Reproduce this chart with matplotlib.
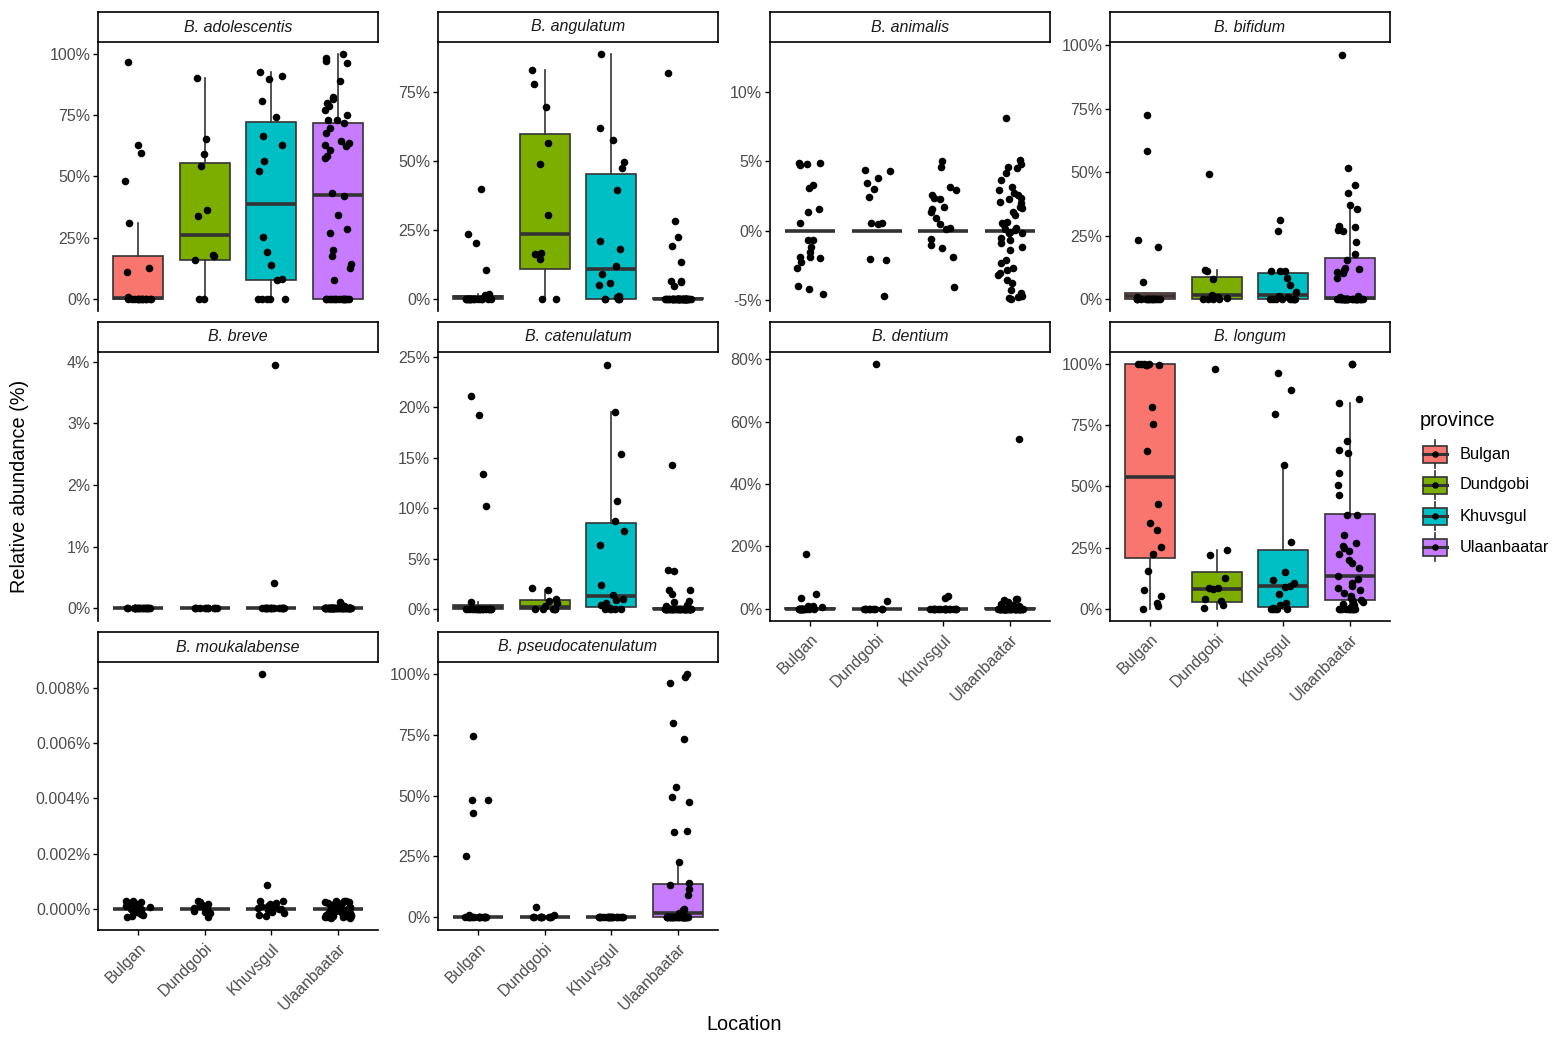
import numpy as np
import matplotlib
matplotlib.use("Agg")
import matplotlib.pyplot as plt
from matplotlib.patches import Rectangle

plt.rcParams['font.family'] = ['Liberation Sans', 'DejaVu Sans']

# ---------------- data ----------------
provinces = ["Bulgan", "Dundgobi", "Khuvsgul", "Ulaanbaatar"]
province_colors = ["#F8766D", "#7CAE00", "#00BFC4", "#C77CFF"]
species = ["B. adolescentis", "B. angulatum", "B. animalis", "B. bifidum",
           "B. breve", "B. catenulatum", "B. dentium", "B. longum",
           "B. moukalabense", "B. pseudocatenulatum"]

# relative abundance points (%) per province, order: Bulgan, Dundgobi, Khuvsgul, Ulaanbaatar
adolescentis_pts = [
    [96.9, 63.0, 59.7, 48.0, 30.9, 12.7, 10.9, 0.6] + [0.0] * 13,
    [90.2, 65.4, 59.3, 54.4, 36.5, 34.0, 18.0, 17.3, 15.7, 0.0, 0.0],
    [92.8, 91.1, 89.9, 80.7, 74.2, 66.7, 62.7, 56.3, 52.2, 25.1, 19.0, 13.9, 8.1, 7.5] + [0.0] * 5,
    [100.0, 98.6, 97.3, 96.6, 89.1, 82.7, 81.8, 79.9, 78.8, 77.0, 75.3, 73.1, 72.9, 71.7,
     69.9, 67.6, 64.5, 63.8, 62.7, 62.4, 61.0, 58.3, 57.6, 43.3, 41.9, 34.4, 28.7, 26.9,
     19.8, 17.3, 14.2, 12.7, 7.5] + [0.0] * 15,
]
adolescentis_box = [(0.0, 0.2, 17.3, 0.0, 30.9), (15.7, 26.0, 55.7, 0.0, 90.2),
                    (7.8, 38.8, 72.1, 0.0, 92.8), (0.0, 42.3, 71.7, 0.0, 100.0)]

angulatum_pts = [
    [40.0, 23.4, 20.1, 10.3, 1.8, 1.3] + [0.0] * 15,
    [82.9, 78.0, 69.6, 56.6, 48.7, 30.3, 16.6, 16.4, 14.5, 0.0, 0.0],
    [88.7, 62.0, 57.6, 49.7, 47.4, 39.6, 21.0, 18.2, 12.0, 9.0, 5.8, 5.0, 1.2, 0.5] + [0.0] * 5,
    [82.0, 28.1, 22.5, 19.3, 13.3, 6.5, 6.3, 6.1, 4.5] + [0.0] * 39,
]
angulatum_box = [(0.0, 0.5, 1.1, 0.0, 1.8), (10.9, 23.6, 59.7, 0.0, 82.9),
                 (0.0, 10.8, 45.3, 0.0, 88.7), (0.0, 0.0, 0.4, 0.0, 0.9)]

animalis_pts = [
    [4.74, 4.88, 4.83, 4.90, 3.29, 3.05, 1.37, 1.54, 0.58, -0.67, -0.67, -1.15, -1.54,
     -1.88, -1.92, -2.00, -2.24, -2.67, -3.97, -4.23, -4.60],
    [4.37, 4.33, 3.82, 3.46, 2.98, 2.45, 0.55, 0.50, 0.55, -2.02, -2.12, -4.71],
    [5.05, 4.62, 3.17, 2.91, 2.55, 2.36, 2.26, 1.73, 1.54, 1.32, 0.89, 0.48, 0.22, 0.10,
     -0.63, -1.01, -1.27, -1.90, -4.04],
    [8.15, 5.10, 4.80, 4.62, 4.50, 4.13, 3.65, 3.17, 2.93, 2.69, 2.57, 2.33, 2.26, 2.09,
     1.97, 1.73, 1.61, 1.37, 1.13, 0.65, 0.53, 0.41, 0.17, 0.10, 0.05, -0.07, -0.14, -0.20,
     -0.50, -0.67, -0.91, -1.15, -1.39, -2.12, -2.31, -2.72, -2.84, -3.08, -3.20, -3.56,
     -3.80, -4.28, -4.52, -4.69, -4.71, -4.76, -4.88, -4.95],
]
animalis_box = [(0.0, 0.0, 0.0, 0.0, 0.0)] * 4

bifidum_pts = [
    [72.5, 58.5, 23.5, 20.6, 6.7, 1.0] + [0.0] * 15,
    [49.1, 11.5, 11.0, 8.1, 1.6, 1.0, 0.4] + [0.0] * 4,
    [31.1, 27.0, 11.3, 11.3, 11.3, 8.3, 5.6, 3.0, 1.3, 1.0] + [0.0] * 9,
    [96.1, 51.6, 44.8, 41.7, 37.1, 35.5, 28.8, 28.6, 27.3, 26.9, 22.7, 18.0, 15.5, 12.2,
     11.8, 11.4, 10.9, 10.5, 8.3, 1.4, 1.0] + [0.0] * 27,
]
bifidum_box = [(0.0, 1.4, 2.4, 0.0, 2.4), (0.2, 1.5, 8.7, 0.0, 11.5),
               (0.0, 1.6, 10.5, 0.0, 11.3), (0.0, 0.7, 16.3, 0.0, 36.8)]

breve_pts = [
    [0.0] * 21,
    [0.0] * 11,
    [3.95, 0.41] + [0.0] * 17,
    [0.10, 0.04, 0.03] + [0.0] * 45,
]
breve_box = [(0.0, 0.0, 0.0, 0.0, 0.0)] * 4

catenulatum_pts = [
    [21.1, 19.2, 13.4, 10.2, 0.7] + [0.0] * 16,
    [2.05, 1.85, 1.03, 0.76, 0.60, 0.33] + [0.0] * 5,
    [24.2, 19.5, 15.4, 10.7, 8.7, 7.7, 6.3, 2.4, 1.36, 0.99, 0.86, 0.60, 0.43, 0.10] + [0.0] * 5,
    [14.3, 3.84, 3.74, 1.92, 1.85, 1.49, 0.76, 0.70, 0.43, 0.33] + [0.0] * 38,
]
catenulatum_box = [(0.0, 0.15, 0.36, 0.0, 0.7), (0.0, 0.17, 0.86, 0.0, 1.85),
                   (0.23, 1.26, 8.5, 0.0, 19.5), (0.0, 0.0, 0.1, 0.0, 0.2)]

dentium_pts = [
    [17.5, 4.7, 3.5, 1.0, 0.75, 0.5] + [0.0] * 15,
    [78.4, 2.6] + [0.0] * 9,
    [4.0, 3.4] + [0.0] * 17,
    [54.5, 3.3, 3.1, 2.7, 2.1, 1.6, 1.2, 0.75] + [0.0] * 40,
]
dentium_box = [(0.0, 0.0, 0.4, 0.0, 1.0), (0.0, 0.0, 0.0, 0.0, 0.0),
               (0.0, 0.0, 0.0, 0.0, 0.0), (0.0, 0.0, 0.2, 0.0, 0.5)]

longum_pts = [
    [100.0, 100.0, 100.0, 100.0, 99.8, 99.6, 99.5, 82.7, 75.4, 64.5, 43.0, 35.1, 32.4,
     25.3, 22.5, 15.3, 7.8, 5.1, 2.3, 1.0, 0.0],
    [98.2, 24.2, 22.0, 12.6, 8.5, 8.5, 8.1, 4.2, 3.1, 1.6, 0.3],
    [96.6, 89.3, 79.5, 58.6, 27.2, 15.2, 11.9, 10.5, 9.2, 8.9, 6.1, 2.3, 1.5, 0.5] + [0.0] * 5,
    [100.0, 100.0, 85.7, 84.0, 68.7, 64.9, 63.8, 55.6, 50.5, 46.7, 38.5, 38.3, 30.1, 26.9,
     25.8, 25.0, 23.5, 22.3, 19.8, 18.7, 16.7, 13.3, 12.2, 10.5, 9.2, 8.3, 7.8, 6.4, 5.3,
     4.4, 3.4, 3.0, 2.6, 2.0, 1.5, 1.0, 0.5] + [0.0] * 11,
]
longum_box = [(20.8, 54.0, 100.0, 0.0, 100.0), (2.7, 8.2, 15.0, 0.0, 23.9),
              (0.8, 9.2, 24.2, 0.0, 58.3), (3.4, 13.5, 38.7, 0.0, 84.0)]

moukalabense_pts = [
    [0.00030, 0.00028, 0.00025, 0.00022, 0.00020, 0.00018, 0.00015, 0.00012, 0.00008,
     0.00005, 0.00002, 0.0, -0.00003, -0.00006, -0.00008, -0.00010, -0.00014, -0.00018,
     -0.00022, -0.00025, -0.00028],
    [0.00028, 0.00025, 0.00020, 0.00015, 0.00010, 0.00005, 0.0, -0.00005, -0.00010,
     -0.00013, -0.00028],
    [0.0085, 0.00088, 0.00030, 0.00028, 0.00022, 0.00018, 0.00015, 0.00012, 0.00010,
     0.00008, 0.00005, 0.00002, 0.0, -0.00003, -0.00006, -0.00010, -0.00015, -0.00020,
     -0.00025],
    [0.00031, 0.00030, 0.00029, 0.00027, 0.00026, 0.00024, 0.00023, 0.00021, 0.00020,
     0.00018, 0.00016, 0.00015, 0.00013, 0.00011, 0.00010, 0.00008, 0.00006, 0.00005,
     0.00003, 0.00002, 0.0, -0.00001, -0.00003, -0.00004, -0.00006, -0.00007, -0.00009,
     -0.00010, -0.00012, -0.00013, -0.00015, -0.00016, -0.00018, -0.00019, -0.00021,
     -0.00022, -0.00023, -0.00025, -0.00026, -0.00027, -0.00028, -0.00029, -0.00030,
     -0.00031, -0.00024, 0.00012, -0.00011, 0.00027],
]
moukalabense_box = [(0.0, 0.0, 0.0, 0.0, 0.0)] * 4

pseudocatenulatum_pts = [
    [74.5, 48.2, 48.1, 43.0, 25.2, 1.0] + [0.0] * 15,
    [4.4, 1.0] + [0.0] * 9,
    [0.0] * 19,
    [100.0, 98.9, 96.4, 80.0, 73.2, 53.4, 49.6, 47.4, 35.6, 34.9, 22.7, 14.0, 13.3, 11.5,
     9.2, 3.3, 3.0, 2.3, 1.6, 1.0, 0.3] + [0.0] * 27,
]
pseudocatenulatum_box = [(0.0, 0.0, 0.0, 0.0, 0.0), (0.0, 0.0, 0.0, 0.0, 0.0),
                         (0.0, 0.0, 0.0, 0.0, 0.0), (0.0, 1.6, 13.6, 0.0, 22.7)]

points_by_species = [adolescentis_pts, angulatum_pts, animalis_pts, bifidum_pts, breve_pts,
                     catenulatum_pts, dentium_pts, longum_pts, moukalabense_pts,
                     pseudocatenulatum_pts]
boxes_by_species = [adolescentis_box, angulatum_box, animalis_box, bifidum_box, breve_box,
                    catenulatum_box, dentium_box, longum_box, moukalabense_box,
                    pseudocatenulatum_box]

y_ticks = [[0, 25, 50, 75, 100], [0, 25, 50, 75], [-5, 0, 5, 10], [0, 25, 50, 75, 100],
           [0, 1, 2, 3, 4], [0, 5, 10, 15, 20, 25], [0, 20, 40, 60, 80],
           [0, 25, 50, 75, 100], [0, 0.002, 0.004, 0.006, 0.008], [0, 25, 50, 75, 100]]

# ---------------- layout ----------------
W, H = 1558, 1045
fig = plt.figure(figsize=(W / 100, H / 100), dpi=100)
fig.patch.set_facecolor("white")

col_x = [(98, 378), (438, 718), (770, 1050), (1110, 1390)]
row_y = [(42, 311), (352, 621), (662, 930)]
strip_h = 30
y_limits = [(-5, 105), (-4.4, 93.1), (-5.8, 13.6), (-4.6, 101.2), (-0.21, 4.16),
            (-1.2, 25.5), (-3.9, 82.3), (-5, 105), (-0.00075, 0.00893), (-5.2, 104.9)]
bottom_panels = {6, 7, 8, 9}

def rect(x0, x1, y0, y1):
    return [x0 / W, 1 - y1 / H, (x1 - x0) / W, (y1 - y0) / H]

rng = np.random.default_rng(11)
edge = "#333333"
tick_col = "#4D4D4D"
tick_fs = 11.5

for k, sp in enumerate(species):
    r, c = divmod(k, 4)
    x0, x1 = col_x[c]
    y0, y1 = row_y[r]
    ax = fig.add_axes(rect(x0, x1, y0, y1))
    pts = points_by_species[k]
    bstats = boxes_by_species[k]
    stats = []
    for (q1, med, q3, wlo, whi) in bstats:
        stats.append(dict(q1=q1, med=med, q3=q3, whislo=wlo, whishi=whi, fliers=[]))
    bp = ax.bxp(stats, positions=[1, 2, 3, 4], widths=0.75, patch_artist=True,
                showfliers=False, showcaps=False,
                boxprops=dict(edgecolor=edge, linewidth=1.2),
                medianprops=dict(color=edge, linewidth=2.6, solid_capstyle="butt"),
                whiskerprops=dict(color=edge, linewidth=1.2), zorder=2)
    for patch, col in zip(bp["boxes"], province_colors):
        patch.set_facecolor(col)
    for i, vals in enumerate(pts):
        vals = np.asarray(vals, dtype=float)
        xj = (i + 1) + rng.uniform(-0.2, 0.2, size=len(vals))
        ax.scatter(xj, vals, s=30, color="black", zorder=3, linewidths=0, clip_on=False)
    ax.set_xlim(0.4, 4.6)
    ax.set_ylim(*y_limits[k])
    ticks = y_ticks[k]
    ax.set_yticks(ticks)
    if k == 8:
        ax.set_yticklabels([f"{t:.3f}%" for t in ticks])
    else:
        ax.set_yticklabels([f"{t:g}%" for t in ticks])
    for s in ["top", "right"]:
        ax.spines[s].set_visible(False)
    ax.spines["left"].set_linewidth(1.2)
    ax.spines["bottom"].set_linewidth(1.2)
    ax.tick_params(axis="y", length=3.5, width=1.0, colors="black", labelcolor=tick_col,
                   labelsize=tick_fs, pad=2)
    if k in bottom_panels:
        ax.set_xticks([1, 2, 3, 4])
        ax.set_xticklabels(provinces, rotation=45, ha="right", va="top",
                           rotation_mode="anchor")
        ax.tick_params(axis="x", length=3.5, width=1.0, colors="black", labelcolor=tick_col,
                       labelsize=tick_fs, pad=4)
    else:
        ax.spines["bottom"].set_visible(False)
        ax.set_xticks([])
    ax.set_facecolor("none")
    # strip
    sax = fig.add_axes(rect(x0, x1, y0 - strip_h, y0))
    sax.set_xticks([]); sax.set_yticks([])
    for s in sax.spines.values():
        s.set_linewidth(1.2)
        s.set_color("black")
    sax.set_facecolor("white")
    sax.text(0.5, 0.5, sp, ha="center", va="center", fontsize=11.5, style="italic",
             color="#1A1A1A", transform=sax.transAxes)

# axis titles
fig.text(20 / W, 1 - 486 / H, "Relative abundance (%)", rotation=90, ha="center",
         va="center", fontsize=14.3)
fig.text(744 / W, 1 - 1025 / H, "Location", ha="center", va="center", fontsize=14.3)

# legend
lax = fig.add_axes(rect(1405, 1558, 395, 575))
lax.set_xlim(1405, 1558)
lax.set_ylim(575, 395)
lax.axis("off")
lax.text(1420, 420, "province", fontsize=14.3, va="center", ha="left")
key_y = [454, 485, 516, 547]
for yy, col, name in zip(key_y, province_colors, provinces):
    lax.plot([1435, 1435], [yy - 14, yy + 14], color=edge, lw=1.2, zorder=1)
    lax.add_patch(Rectangle((1423, yy - 8.5), 24, 17, facecolor=col, edgecolor=edge,
                            lw=1.2, zorder=2))
    lax.plot([1423, 1447], [yy, yy], color=edge, lw=2.2, zorder=3)
    lax.scatter([1435], [yy], s=22, color="black", zorder=4, linewidths=0)
    lax.text(1460, yy, name, fontsize=11.8, va="center", ha="left", color="black")

fig.savefig("out.png", dpi=100)
